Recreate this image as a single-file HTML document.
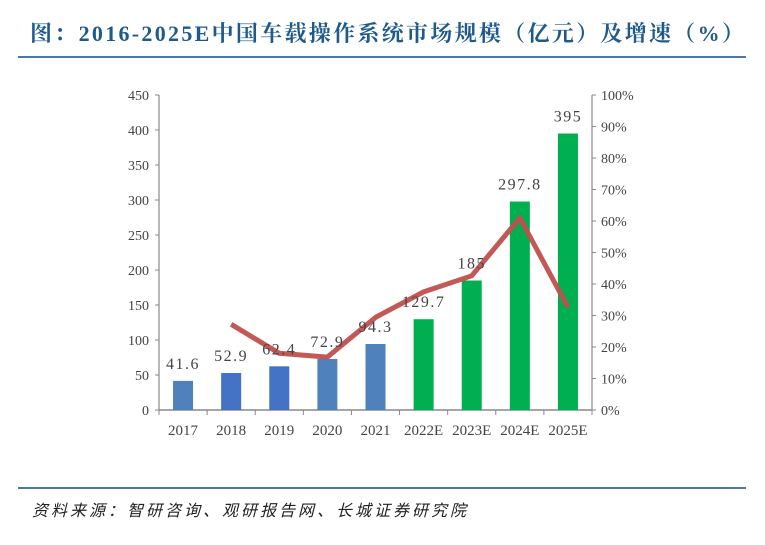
<!DOCTYPE html>
<html><head><meta charset="utf-8"><style>
body{margin:0;width:765px;height:545px;background:#fff;overflow:hidden;position:relative;font-family:"Liberation Serif","Noto Serif CJK SC",serif}
#title{position:absolute;left:30px;top:17px;font-size:22px;font-weight:bold;color:#1f5a8c;white-space:nowrap;letter-spacing:2.3px}
.rule{position:absolute;left:18px;width:728px;height:2px;background:#4a78a8}
#src{position:absolute;left:32px;top:497px;font-size:16px;color:#222;font-style:italic;letter-spacing:3px;font-family:"Liberation Serif","Noto Sans CJK SC",serif}
svg text{font-family:"Liberation Serif","DejaVu Serif",serif;fill:#444}
</style></head><body>
<div id="title">图：2016-2025E中国车载操作系统市场规模（亿元）及增速（%）</div>
<div class="rule" style="top:56px"></div>
<svg id="chart" width="765" height="545" style="position:absolute;left:0;top:0"></svg>
<div class="rule" style="top:487px"></div>
<div id="src">资料来源：智研咨询、观研报告网、长城证券研究院</div>
<script>
const categories=["2017","2018","2019","2020","2021","2022E","2023E","2024E","2025E"];
const marketSize=[41.6,52.9,62.4,72.9,94.3,129.7,185,297.8,395];
const growth=[null,27.2,18.0,16.8,29.4,37.5,42.6,61.0,32.6];
const barColors=["#4f81bd","#4472c4","#4472c4","#4f81bd","#4f81bd","#00b050","#00b050","#00b050","#00b050"];
const leftTicks=[0,50,100,150,200,250,300,350,400,450];
const rightTicks=[0,10,20,30,40,50,60,70,80,90,100];
const sizeLabels=["41.6","52.9","62.4","72.9","94.3","129.7","185","297.8","395"];
const NS="http://www.w3.org/2000/svg";
const svg=document.getElementById('chart');
const X0=159,X1=592,Y0=410,Y1=95;
const band=(X1-X0)/categories.length;
const xc=i=>X0+band*(i+0.5);
const yL=v=>Y0-(v/450)*(Y0-Y1);
const yR=v=>Y0-(v/100)*(Y0-Y1);
function mk(t,a){const e=document.createElementNS(NS,t);for(const k in a)e.setAttribute(k,a[k]);svg.appendChild(e);return e;}
let ax=mk('line',{x1:X0,y1:Y0,x2:X1,y2:Y0,stroke:'#888','stroke-width':1.5});


let la=mk('line',{x1:X0,y1:Y1,x2:X0,y2:Y0,stroke:'#888','stroke-width':1.2});


let ra=mk('line',{x1:X1,y1:Y1,x2:X1,y2:Y0,stroke:'#888','stroke-width':1.2});


leftTicks.forEach(v=>{
 mk('line',{x1:X0-4,y1:yL(v),x2:X0,y2:yL(v),stroke:'#888'});
 const t=mk('text',{x:X0-10,y:yL(v)+5,'text-anchor':'end','font-size':14});
 t.textContent=v;
 
 
});
rightTicks.forEach(v=>{
 mk('line',{x1:X1,y1:yR(v),x2:X1+4,y2:yR(v),stroke:'#888'});
 const t=mk('text',{x:X1+9,y:yR(v)+5,'font-size':14});
 t.textContent=v+'%';
 
 
});
for(let i=0;i<=categories.length;i++)mk('line',{x1:X0+band*i,y1:Y0,x2:X0+band*i,y2:Y0+5,stroke:'#888'});
categories.forEach((c,i)=>{
 const t=mk('text',{x:xc(i),y:Y0+25,'text-anchor':'middle','font-size':15});
 t.textContent=c;
 
 
});
marketSize.forEach((v,i)=>{
 const w=20;
 const r=mk('rect',{x:xc(i)-w/2,y:yL(v),width:w,height:Y0-yL(v),fill:barColors[i]});
 
 
});
const pts=[];growth.forEach((g,i)=>{if(g!==null)pts.push(xc(i)+','+yR(g));});
const pl=mk('polyline',{points:pts.join(' '),fill:'none',stroke:'#c0504d','stroke-width':5,'stroke-linejoin':'round',opacity:0.95});


marketSize.forEach((v,i)=>{
 const t=mk('text',{x:xc(i),y:yL(v)-12,'text-anchor':'middle','font-size':16,'letter-spacing':'1.5'});
 t.textContent=sizeLabels[i];
 
 
});
</script>
</body></html>
